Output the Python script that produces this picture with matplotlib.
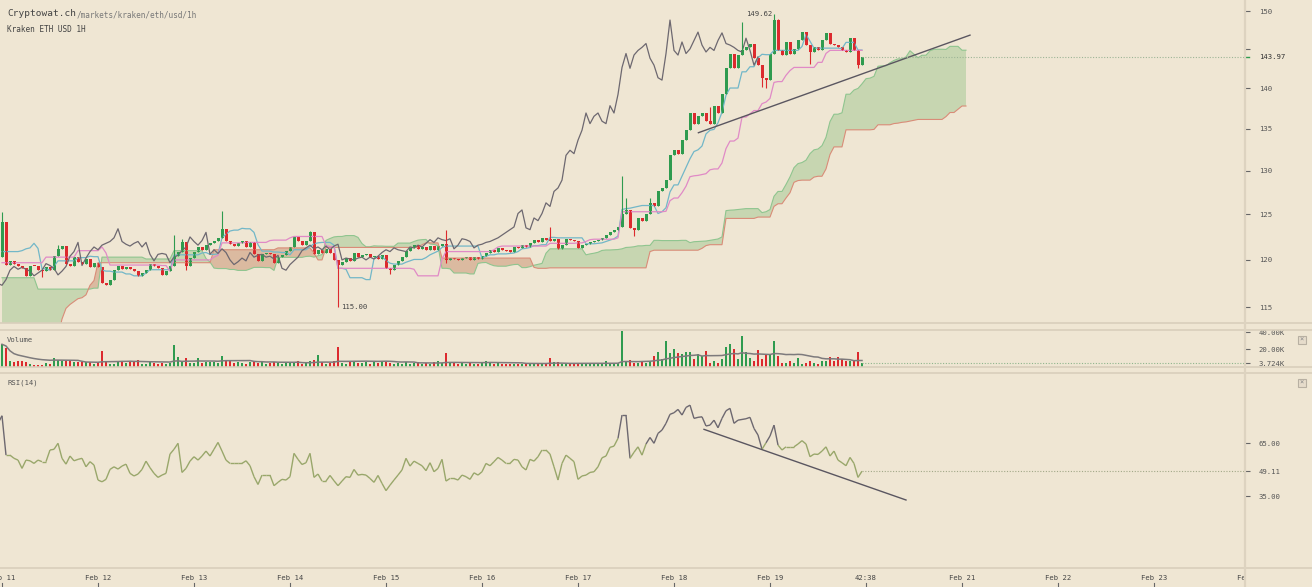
import numpy as np
import pandas as pd
import matplotlib
matplotlib.use('Agg')
import matplotlib.pyplot as plt
import matplotlib.transforms as mtransforms
from matplotlib.collections import LineCollection
from matplotlib.patches import Rectangle
from matplotlib.lines import Line2D

# hourly closes, Kraken ETH/USD, candle 0 = Feb 11 00:00
closes = [
    124.2, 119.5, 119.9, 119.6, 119.3, 119.1, 118.3, 119.4, 119.3, 118.9,
    118.8, 119.2, 118.9, 120.4, 121.2, 121.5, 119.6, 119.4, 120.3, 119.8,
    119.6, 120.1, 119.2, 119.7, 119.2, 117.5, 117.3, 117.9, 118.9, 119.3,
    119.0, 119.2, 119.0, 118.8, 118.3, 118.6, 118.9, 119.6, 119.4, 119.1,
    118.4, 118.8, 119.3, 120.4, 120.9, 121.9, 119.4, 120.2, 120.9, 121.4,
    121.1, 121.6, 121.8, 122.0, 122.4, 123.4, 122.0, 121.7, 121.5, 121.8,
    122.0, 121.4, 121.9, 120.6, 119.9, 120.6, 120.7, 120.6, 119.7, 120.3,
    120.5, 121.0, 121.4, 122.5, 122.0, 121.6, 122.1, 123.0, 120.6, 121.1,
    120.7, 121.2, 120.8, 120.0, 119.5, 119.8, 120.2, 119.9, 120.8, 120.3,
    120.5, 120.6, 120.3, 120.4, 120.1, 120.5, 119.1, 118.9, 119.5, 119.9,
    120.3, 121.0, 121.3, 121.6, 121.2, 121.4, 121.1, 121.5, 121.1, 121.5,
    121.7, 120.0, 120.2, 120.1, 120.0, 120.2, 120.3, 120.0, 120.3, 120.1,
    120.4, 120.8, 121.1, 120.9, 121.3, 121.1, 121.0, 120.9, 121.4, 121.3,
    121.6, 121.4, 121.8, 122.2, 121.9, 122.4, 122.2, 122.1, 122.3, 121.2,
    121.6, 122.3, 122.2, 122.0, 121.3, 121.6, 121.7, 121.9, 122.0, 122.2,
    122.4, 122.7, 123.0, 123.3, 123.6, 125.1, 125.5, 123.5, 123.3, 124.6,
    124.3, 125.1, 126.3, 125.9, 127.6, 128.0, 128.9, 131.8, 132.4, 132.0,
    133.6, 134.8, 136.9, 135.6, 136.5, 136.9, 135.9, 135.6, 137.8, 136.9,
    139.2, 142.6, 144.4, 142.5, 144.2, 144.8, 145.2, 145.7, 143.8, 142.9,
    141.3, 141.0, 144.4, 148.8, 144.8, 144.2, 145.9, 144.4, 145.0, 146.1,
    147.2, 145.5, 144.6, 145.2, 144.8, 146.1, 147.1, 145.7, 145.5, 145.2,
    144.8, 144.6, 146.4, 144.8, 142.9, 143.97,
]
first_open = 120.3
wick_highs = {0: 125.3, 14: 121.6, 43: 122.7, 45: 122.3, 55: 125.4, 77: 123.2,
              111: 123.3, 137: 123.6, 155: 129.4, 156: 126.8, 162: 126.9,
              177: 137.6, 185: 148.5, 193: 149.62, 194: 149.0}
wick_lows = {10: 118.2, 46: 118.9, 84: 115.0, 97: 118.5, 111: 119.7, 158: 122.6,
             190: 140.1, 191: 140.0, 202: 143.0, 214: 142.6}

# volume in thousands
volumes = [
    26, 22, 7, 5, 7, 7, 5, 3, 2, 2, 2, 4, 3, 10, 8, 6, 7, 7, 5, 5,
    5, 5, 5, 3, 5, 18.5, 6, 3, 3, 6, 6, 4, 6, 6, 8, 3, 3, 6, 4, 3,
    4, 3, 4, 25, 11, 6, 10, 4, 4, 10, 4, 5, 5, 5, 4, 12.5, 7, 6, 4, 5,
    4, 3, 5, 6, 4, 5, 3, 4, 5, 4, 3, 4, 5, 5, 7, 3, 4, 6, 8, 14,
    5, 3, 4, 6, 23, 4, 3, 5, 7, 4, 4, 5, 3, 5, 4, 6, 5, 4, 3, 4,
    3, 5, 3, 4, 5, 3, 4, 3, 5, 6, 4, 15.5, 4, 5, 3, 4, 3, 4, 3, 3,
    4, 7, 5, 3, 4, 3, 3, 3, 3, 3, 3, 3, 3, 4, 3, 3, 3, 10, 5, 5,
    3, 3, 3, 3, 3, 3, 3, 3, 3, 3, 3, 6.5, 3, 4, 4, 41.5, 5, 8, 4.5, 4.5,
    6.5, 4.5, 7, 12.5, 17.5, 8.5, 30, 15.5, 20.5, 15.5, 14.5, 17, 17, 8.5, 14.5, 12, 18, 4.5, 7, 4.5,
    8.5, 23, 26.5, 20.5, 8.5, 36, 17, 10.5, 7, 19, 8.5, 13.5, 13.5, 30, 12.5, 4, 4.5, 7, 4, 10.5,
    3.5, 4.5, 7, 4.5, 3.5, 6, 6, 11, 7, 11, 8.5, 7, 7, 7, 17, 3.724,
]

# RSI(14), first value belongs to the candle before Feb 11 00:00
rsi_values = [
    76.2, 80.5, 58.2, 58.2, 56.4, 55.4, 50.7, 55.4, 55.0, 53.5,
    55.4, 54.5, 54.5, 61.1, 61.5, 64.9, 56.4, 53.1, 57.7, 55.0,
    55.8, 56.4, 51.6, 54.5, 52.6, 44.1, 43.1, 44.5, 50.1, 51.6,
    50.3, 52.0, 53.1, 47.9, 46.4, 47.5, 50.1, 54.8, 51.1, 47.9,
    45.6, 46.9, 47.9, 58.8, 61.5, 64.9, 48.4, 50.7, 54.8, 57.3,
    55.4, 57.7, 60.5, 57.7, 61.5, 65.4, 60.5, 55.4, 53.5, 53.5,
    53.5, 53.5, 55.0, 52.2, 46.0, 41.6, 46.9, 46.9, 46.9, 40.9,
    42.8, 44.5, 44.1, 46.0, 59.2, 55.8, 52.9, 53.9, 59.2, 45.6,
    47.5, 43.5, 43.5, 46.7, 43.7, 40.9, 43.5, 46.0, 45.6, 50.1,
    46.9, 47.3, 46.9, 45.0, 42.8, 46.7, 42.2, 38.1, 41.2, 44.1,
    46.9, 49.8, 56.4, 52.0, 54.8, 53.5, 52.2, 49.4,
    53.9, 48.8, 50.7, 55.8, 43.5, 45.0, 45.0, 44.1, 46.9, 46.0,
    44.5, 48.2, 46.9, 48.8, 53.5, 52.2, 54.5, 56.9, 55.4, 53.5,
    53.5, 55.8, 55.4, 51.6, 49.8, 55.8, 54.8, 57.3, 61.1, 61.1,
    58.8, 51.6, 44.1, 53.5, 58.2, 56.4, 54.5, 44.5, 46.4, 46.9,
    48.4, 48.8, 51.6, 56.7, 57.7, 62.6, 63.3, 67.7, 80.9, 80.9,
    56.4, 59.8, 62.9, 58.2, 64.5, 68.2, 64.9, 70.5, 72.4, 76.2,
    81.3, 82.2, 84.1, 80.9, 85.2, 86.5, 79.0, 79.6, 79.9, 74.7,
    75.2, 78.0, 73.7, 79.0, 83.3, 84.7, 76.2, 78.0, 78.4, 78.8,
    79.6, 73.3, 69.6, 61.5, 65.2, 69.0, 75.2, 63.9, 61.1, 62.9,
    62.9, 62.9, 64.5, 66.4, 64.5, 57.3, 58.8, 58.6, 60.5, 62.9,
    57.7, 60.5, 55.4, 53.9, 52.2, 56.9, 53.5, 45.6, 49.11,
]

# ichimoku values that depend on candles before the visible range
tenkan_early = [120.9, 120.9, 120.9, 120.9, 120.9, 121.0, 121.2, 121.3]
kijun_early = [119.7] * 11 + [120.3] * 8 + [121.0] * 6
span_a_early = [118.1] * 9 + [116.9] * 14 + [117.0] * 2 + [120.3] * 11 + [120.1] * 7 + [121.0] * 8
span_b_early = ([112.0] * 15 + [113.8, 114.9, 115.3, 115.6, 115.9, 116.0, 116.3, 117.3, 117.8]
                + [119.7] * 29 + [121.1] * 16 + [121.3] * 8)

# hand-drawn trend lines (candle index, value)
price_trend_x = [174.1, 242.0]
price_trend_y = [134.5, 146.8]
rsi_trend_x = [175.5, 226.0]
rsi_trend_y = [72.8, 32.8]

day_labels = ['Feb 11', 'Feb 12', 'Feb 13', 'Feb 14', 'Feb 15', 'Feb 16', 'Feb 17',
              'Feb 18', 'Feb 19', '42:38', 'Feb 21', 'Feb 22', 'Feb 23']

bg = '#efe6d3'
green = '#2f9b4f'
red = '#dc2a2e'
font = 'DejaVu Sans Mono'
plt.rcParams['font.family'] = font

n = len(closes)
idx = np.arange(n)
opens = [first_open] + closes[:-1]
highs = [wick_highs.get(i, max(opens[i], closes[i])) for i in range(n)]
lows = [wick_lows.get(i, min(opens[i], closes[i])) for i in range(n)]
up = np.array(closes) >= np.array(opens)
colors = np.where(up, green, red)

hi = pd.Series(highs)
lo = pd.Series(lows)
tenkan = ((hi.rolling(9).max() + lo.rolling(9).min()) / 2).values
tenkan[:8] = tenkan_early
kijun = ((hi.rolling(26).max() + lo.rolling(26).min()) / 2).values
kijun[:25] = kijun_early
span_b_calc = ((hi.rolling(52).max() + lo.rolling(52).min()) / 2).values
span_a_calc = (tenkan + kijun) / 2
span_a = np.concatenate([span_a_early, span_a_calc[len(span_a_early) - 26:]])
span_b = np.concatenate([span_b_early, span_b_calc[len(span_b_early) - 26:]])
cloud_x = np.arange(len(span_a))

fig = plt.figure(figsize=(13.12, 5.87), dpi=100, facecolor=bg)
H = 587.0
W = 1312.0
right = 1245 / W

ax = fig.add_axes([0, 1 - 323 / H, right, 323 / H])
axv = fig.add_axes([0, 1 - 366.5 / H, right, 36.5 / H], sharex=ax)
axr = fig.add_axes([0, 1 - 568 / H, right, 195 / H], sharex=ax)
for a in (ax, axv, axr):
    a.set_facecolor('none')
    for s in a.spines.values():
        s.set_visible(False)
    a.tick_params(axis='x', bottom=False, labelbottom=False)
    a.yaxis.tick_right()
    a.tick_params(axis='y', direction='out', length=3.6, width=0.8, colors='#666',
                  pad=6.3, labelsize=5.2, labelcolor='#555')

ax.set_xlim(-0.5, 310.75)

# cloud
ax.fill_between(cloud_x, span_a, span_b, where=span_a >= span_b, interpolate=True,
                color='#c7d6b1', lw=0)
ax.fill_between(cloud_x, span_a, span_b, where=span_a < span_b, interpolate=True,
                color='#dbbaa0', lw=0)
ax.plot(cloud_x, span_a, color='#8fc58f', lw=0.8)
ax.plot(cloud_x, span_b, color='#d98c78', lw=0.8)
ax.plot(idx, tenkan, color='#72b7c8', lw=0.9)
ax.plot(idx, kijun, color='#e08ac6', lw=0.9)
ax.plot(idx - 26, closes, color='#6d6870', lw=0.9)

# candles
ax.vlines(idx, lows, highs, colors=colors, lw=0.8)
body_lo = np.minimum(opens, closes)
body_h = np.maximum(np.abs(np.array(closes) - np.array(opens)), 0.12)
ax.bar(idx, body_h, bottom=body_lo, width=0.75, color=colors, lw=0)

ax.plot(price_trend_x, price_trend_y, color='#5a5660', lw=1.0)
ax.plot([idx[-1], 320], [closes[-1], closes[-1]], color='#9db596', lw=0.8, ls=(0, (1, 1.5)))

ax.set_yscale('log')
ax.set_ylim(113.4, 151.5)
ax.yaxis.set_minor_locator(matplotlib.ticker.NullLocator())
ax.set_yticks([115, 120, 125, 130, 135, 140, 145, 150])
ax.set_yticklabels(['115', '120', '125', '130', '135', '140', '', '150'])

bt = mtransforms.blended_transform_factory(ax.transAxes, ax.transData)
ax.plot([1, 1.0035], [closes[-1]] * 2, transform=bt, color=green, lw=1, clip_on=False)
ax.annotate('%.2f' % closes[-1], xy=(1, closes[-1]), xycoords=bt, xytext=(10.1, 0),
            textcoords='offset points', fontsize=5.2, color='#333', va='center', ha='left')

top_i = max(wick_highs, key=lambda k: wick_highs[k])
ax.annotate('%.2f' % wick_highs[top_i], xy=(top_i, wick_highs[top_i]), xytext=(-1.5, 0),
            textcoords='offset points', fontsize=5.2, color='#444', ha='right', va='center')
low_i = min(wick_lows, key=lambda k: wick_lows[k])
ax.annotate('%.2f' % wick_lows[low_i], xy=(low_i, wick_lows[low_i]), xytext=(2, 0),
            textcoords='offset points', fontsize=5.2, color='#444', ha='left', va='center')

# volume
axv.bar(idx, volumes, width=0.62, color=colors, lw=0)
vol_ma = pd.Series(volumes).rolling(20, min_periods=1).mean()
axv.plot(idx, vol_ma, color='#7d7a7c', lw=1.1)
axv.plot([idx[-1], 320], [volumes[-1]] * 2, color='#8fb58c', lw=0.8, ls=(0, (1, 1.5)))
axv.set_ylim(0, 42.7)
axv.set_yticks([volumes[-1], 20, 40])
axv.set_yticklabels(['%.3fK' % volumes[-1], '20.00K', '40.00K'])

# RSI
rsi_x = np.arange(-1, len(rsi_values) - 1)
pts = np.column_stack([rsi_x, rsi_values])
segs = np.stack([pts[:-1], pts[1:]], axis=1)
seg_max = np.maximum(pts[:-1, 1], pts[1:, 1])
seg_cols = np.where(seg_max > 68, '#6d6870', '#99a76b')
axr.add_collection(LineCollection(segs, colors=seg_cols, lw=1.0))
axr.plot(rsi_trend_x, rsi_trend_y, color='#5a5660', lw=1.0)
axr.plot([rsi_x[-1], 320], [rsi_values[-1]] * 2, color='#a2a888', lw=0.8, ls=(0, (1, 1.5)))
axr.set_ylim(-5.7, 104.7)
axr.set_yticks([35, rsi_values[-1], 65])
axr.set_yticklabels(['35.00', '%.2f' % rsi_values[-1], '65.00'])

# date labels under the RSI panel
xt = mtransforms.blended_transform_factory(axr.transData, axr.transAxes)
for d, lab in enumerate(day_labels):
    axr.text(24 * d, -0.051, lab, transform=xt, fontsize=5.2, color='#444',
             ha='center', va='center', clip_on=False)
    axr.add_line(Line2D([24 * d, 24 * d], [-0.077, -0.1], transform=xt, color='#666',
                        lw=0.8, clip_on=False))
clip = mtransforms.TransformedBbox(mtransforms.Bbox([[0, 0], [right, 1]]), fig.transFigure)
t = axr.text(24 * 13, -0.051, 'Feb 24', transform=xt, fontsize=5.2, color='#444',
             ha='center', va='center')
t.set_clip_box(clip)
t.set_clip_on(True)

# panel frame lines
for yp in (323, 330, 366.5, 373, 568):
    fig.add_artist(Line2D([0, 1], [1 - yp / H] * 2, color='#d9cfbb', lw=1.2))
fig.add_artist(Line2D([right, right], [0, 1], color='#ddd3c0', lw=1.6))

# titles
fig.text(7 / W, 1 - 14 / H, 'Cryptowat.ch', fontsize=6.8, color='#444', va='center')
fig.text(77 / W, 1 - 14.5 / H, '/markets/kraken/eth/usd/1h', fontsize=5.6, color='#777',
         va='center')
fig.text(7 / W, 1 - 29 / H, 'Kraken ETH USD 1H', fontsize=5.6, color='#444', va='center')
fig.text(7 / W, 1 - 340 / H, 'Volume', fontsize=5.2, color='#555', va='center')
fig.text(7 / W, 1 - 383 / H, 'RSI(14)', fontsize=5.2, color='#555', va='center')

for yp in (340, 383):
    fig.add_artist(Rectangle(((1298) / W, 1 - (yp + 4) / H), 8 / W, 8 / H,
                             facecolor='#e6dccb', edgecolor='#b8b0a2', lw=0.8))
    fig.text(1302 / W, 1 - yp / H, '×', fontsize=5, color='#888', ha='center', va='center')

fig.savefig('out.png', dpi=100, facecolor=bg)
